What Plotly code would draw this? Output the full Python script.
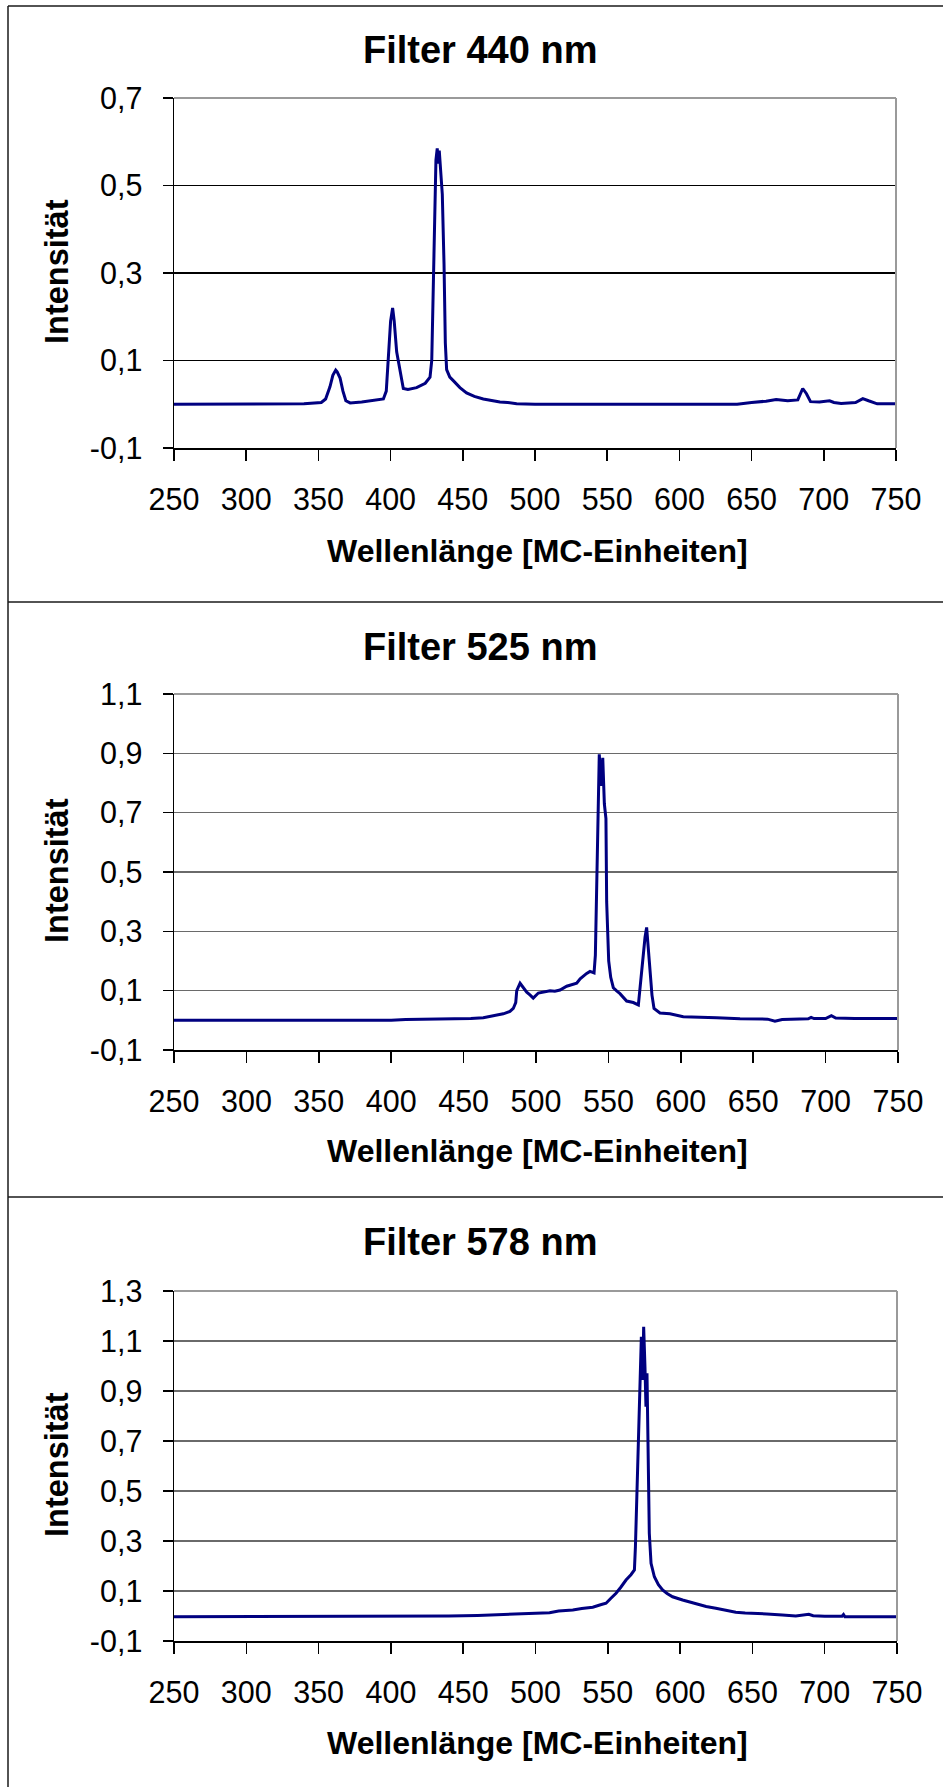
import plotly.graph_objects as go

# ---------------- data ----------------
panel_titles = ["Filter 440 nm", "Filter 525 nm", "Filter 578 nm"]
x_title = "Wellenlänge [MC-Einheiten]"
y_title = "Intensität"

x_tick_vals = [250, 300, 350, 400, 450, 500, 550, 600, 650, 700, 750]
x_tick_text = ["250", "300", "350", "400", "450", "500", "550", "600", "650", "700", "750"]

y1_tick_vals = [-0.1, 0.1, 0.3, 0.5, 0.7]
y1_tick_text = ["-0,1", "0,1", "0,3", "0,5", "0,7"]
y2_tick_vals = [-0.1, 0.1, 0.3, 0.5, 0.7, 0.9, 1.1]
y2_tick_text = ["-0,1", "0,1", "0,3", "0,5", "0,7", "0,9", "1,1"]
y3_tick_vals = [-0.1, 0.1, 0.3, 0.5, 0.7, 0.9, 1.1, 1.3]
y3_tick_text = ["-0,1", "0,1", "0,3", "0,5", "0,7", "0,9", "1,1", "1,3"]

# Filter 440 nm spectrum
wl_440 = [250, 300, 340, 352, 355, 358, 360, 362, 363, 365, 367, 369, 372, 380, 390,
          395, 397, 398.5, 400, 401.4, 402.5, 404.2, 406.5, 408.8, 412, 418, 424,
          427.3, 428.5, 429.1, 430.2, 431.4, 432.3, 433, 433.7, 434.9, 435.8, 437,
          437.9, 438.8, 441, 443.4, 448, 452.6, 458, 464.2, 470, 475.7, 481, 487.3,
          500, 550, 600, 640, 650, 660, 667, 675, 682, 685.4, 688, 690.8, 697, 704,
          707, 712, 722, 727, 731, 737, 745, 750]
int_440 = [0.0, 0.0, 0.001, 0.004, 0.012, 0.04, 0.066, 0.078, 0.074, 0.06, 0.03, 0.008,
           0.003, 0.005, 0.01, 0.012, 0.03, 0.1, 0.19, 0.22, 0.19, 0.12, 0.075, 0.036,
           0.034, 0.038, 0.048, 0.062, 0.1, 0.2, 0.42, 0.558, 0.585, 0.55, 0.58, 0.51,
           0.48, 0.32, 0.14, 0.079, 0.062, 0.054, 0.038, 0.026, 0.018, 0.012, 0.008,
           0.005, 0.004, 0.001, 0.0, 0.0, 0.0, 0.0, 0.004, 0.007, 0.011, 0.008, 0.01,
           0.036, 0.024, 0.006, 0.005, 0.008, 0.004, 0.002, 0.004, 0.013, 0.008, 0.001,
           0.001, 0.001]

# Filter 525 nm spectrum
wl_525 = [250, 300, 350, 400, 410, 440.6, 455, 463.6, 468.2, 473, 477.4, 482, 484.3,
          486, 486.7, 489, 491, 493.6, 496, 498.1, 501.6, 505, 509.7, 513, 516.6,
          521.2, 525, 528.1, 530.5, 532.7, 535, 537.3, 540.1, 541, 541.9, 542.6,
          543.7, 544.9, 546.1, 547.2, 548.3, 548.8, 550.2, 551.6, 553.4, 555.5, 558,
          562.6, 567.2, 570.7, 571.8, 573.7, 575.3, 576.4, 577.6, 578.7, 580.1, 581.5,
          585.6, 592.5, 601.7, 624.8, 640.9, 660, 665, 670, 688, 690, 692, 700, 704,
          707, 720, 750]
int_525 = [0.0, 0.0, 0.0, 0.0, 0.003, 0.004, 0.006, 0.009, 0.013, 0.016, 0.022, 0.03,
           0.04, 0.06, 0.1, 0.125, 0.11, 0.095, 0.085, 0.075, 0.092, 0.095, 0.1, 0.098,
           0.102, 0.115, 0.12, 0.125, 0.14, 0.15, 0.158, 0.165, 0.16, 0.22, 0.457, 0.7,
           0.897, 0.79, 0.885, 0.73, 0.68, 0.4, 0.2, 0.145, 0.11, 0.1, 0.09, 0.065,
           0.06, 0.052, 0.11, 0.22, 0.28, 0.313, 0.24, 0.175, 0.085, 0.04, 0.025,
           0.022, 0.012, 0.009, 0.005, 0.004, -0.003, 0.003, 0.005, 0.01, 0.006, 0.006,
           0.016, 0.008, 0.006, 0.006]

# Filter 578 nm spectrum
wl_578 = [250, 350, 435, 440, 460, 478.6, 490, 500, 509.7, 516, 525.8, 532, 539.6,
          545, 548.8, 552, 555.7, 559, 562.6, 566, 568.4, 569.1, 570, 570.7, 571.8,
          573.2, 574.1, 574.8, 575.7, 576.4, 577.1, 577.8, 578.7, 579.9, 582.2, 585,
          587.9, 591, 594.8, 601.7, 607, 613.2, 618, 624.7, 630, 638.5, 645, 652.3,
          660, 670.7, 680, 689, 692, 700, 712, 713, 714, 750]
int_578 = [-0.003, -0.003, -0.003, 0.0, 0.002, 0.006, 0.009, 0.01, 0.013, 0.02, 0.024,
           0.03, 0.035, 0.045, 0.051, 0.07, 0.091, 0.115, 0.144, 0.165, 0.184, 0.277,
           0.464, 0.651, 0.917, 1.117, 0.944, 1.157, 0.997, 0.837, 0.971, 0.704, 0.331,
           0.211, 0.157, 0.125, 0.104, 0.09, 0.077, 0.064, 0.055, 0.044, 0.038, 0.031,
           0.024, 0.015, 0.012, 0.011, 0.008, 0.004, 0.0, 0.007, 0.001, -0.001, -0.001,
           0.006, -0.003, -0.003]

# ---------------- layout helpers ----------------
W, H = 943, 1787
FONT = "Liberation Sans, Arial, sans-serif"


def px(x):
    return x / W


def py(y):
    return 1 - y / H


panels = [
    dict(wl=wl_440, val=int_440, yr=[-0.1, 0.7], yt=y1_tick_vals, ytt=y1_tick_text,
         top=98, bot=448, left=174, right=896, grid="#000000",
         title_y=50, xt_y=551, yt_y=272),
    dict(wl=wl_525, val=int_525, yr=[-0.1, 1.1], yt=y2_tick_vals, ytt=y2_tick_text,
         top=694, bot=1050, left=174, right=898, grid="#6a6a6a",
         title_y=647, xt_y=1151, yt_y=871),
    dict(wl=wl_578, val=int_578, yr=[-0.1, 1.3], yt=y3_tick_vals, ytt=y3_tick_text,
         top=1291, bot=1641, left=174, right=897, grid="#6a6a6a",
         title_y=1242, xt_y=1743, yt_y=1465),
]

fig = go.Figure()
shapes = []
annotations = []

for i, p in enumerate(panels):
    n = "" if i == 0 else str(i + 1)
    fig.add_trace(go.Scatter(
        x=p["wl"], y=p["val"], mode="lines",
        line=dict(color="#000080", width=3),
        xaxis="x" + n, yaxis="y" + n, showlegend=False, hoverinfo="skip",
    ))
    fig.update_layout(**{
        "xaxis" + n: dict(
            domain=[px(p["left"]), px(p["right"])], anchor="y" + n,
            range=[250, 750], tickmode="array", tickvals=x_tick_vals, ticktext=x_tick_text,
            ticks="outside", ticklen=11, tickwidth=1.5, tickcolor="#000000",
            showline=True, linecolor="#000000", linewidth=1.5,
            showgrid=False, zeroline=False, ticklabelstandoff=13, automargin=False,
            tickfont=dict(family=FONT, size=30.5, color="#000000"),
        ),
        "yaxis" + n: dict(
            domain=[py(p["bot"]), py(p["top"])], anchor="x" + n,
            range=p["yr"], tickmode="array", tickvals=p["yt"], ticktext=p["ytt"],
            ticks="outside", ticklen=10, tickwidth=1.5, tickcolor="#000000",
            showline=True, linecolor="#000000", linewidth=1.5,
            showgrid=True, gridcolor=p["grid"], gridwidth=1.4, zeroline=False,
            ticklabelstandoff=14, automargin=False,
            tickfont=dict(family=FONT, size=30.5, color="#000000"),
        ),
    })
    # gray top and right border of the plot area
    shapes.append(dict(type="line", xref="x" + n + " domain", yref="y" + n + " domain",
                       x0=0, x1=1, y0=1, y1=1, line=dict(color="#9a9a9a", width=2),
                       layer="above"))
    shapes.append(dict(type="line", xref="x" + n + " domain", yref="y" + n + " domain",
                       x0=1, x1=1, y0=0, y1=1, line=dict(color="#9a9a9a", width=2),
                       layer="above"))
    annotations.append(dict(text="<b>" + panel_titles[i] + "</b>", xref="paper", yref="paper",
                            x=px(480), y=py(p["title_y"]), xanchor="center", yanchor="middle",
                            showarrow=False, font=dict(family=FONT, size=38, color="#000000")))
    annotations.append(dict(text="<b>" + x_title + "</b>", xref="paper", yref="paper",
                            x=px(537), y=py(p["xt_y"]), xanchor="center", yanchor="middle",
                            showarrow=False, font=dict(family=FONT, size=32, color="#000000")))
    annotations.append(dict(text="<b>" + y_title + "</b>", xref="paper", yref="paper",
                            x=px(57), y=py(p["yt_y"]), xanchor="center", yanchor="middle",
                            textangle=-90, showarrow=False,
                            font=dict(family=FONT, size=32.5, color="#000000")))

# outer frame lines
frame_col = "#1a1a1a"
shapes.append(dict(type="line", xref="paper", yref="paper", x0=px(8), x1=px(8),
                   y0=py(6), y1=py(H), line=dict(color=frame_col, width=1.5)))
for yy in [6, 602, 1197]:
    shapes.append(dict(type="line", xref="paper", yref="paper", x0=px(8), x1=1,
                       y0=py(yy), y1=py(yy), line=dict(color=frame_col, width=1.5)))

fig.update_layout(
    width=W, height=H, margin=dict(l=0, r=0, t=0, b=0, pad=0, autoexpand=False),
    paper_bgcolor="#ffffff", plot_bgcolor="#ffffff",
    separators=",.", showlegend=False, hovermode=False,
    shapes=shapes, annotations=annotations,
)

fig.write_html("out.html",
               config={"displayModeBar": False, "staticPlot": True},
               post_script="document.body.style.margin='0';document.body.style.padding='0';")
